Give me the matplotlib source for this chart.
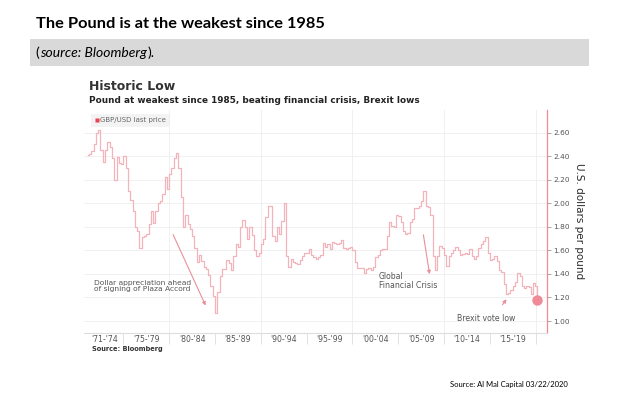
import matplotlib
matplotlib.use("Agg")
import matplotlib.pyplot as plt
from matplotlib.patches import Rectangle
from matplotlib.lines import Line2D
import numpy as np

# ---------------- data ----------------
years = list(range(1971, 2020))
quarterly = [
    [2.41, 2.42, 2.44, 2.50],  # 1971
    [2.60, 2.62, 2.45, 2.35],  # 1972
    [2.45, 2.52, 2.48, 2.38],  # 1973
    [2.20, 2.39, 2.34, 2.33],  # 1974
    [2.40, 2.30, 2.10, 2.03],  # 1975
    [1.93, 1.80, 1.76, 1.62],  # 1976
    [1.71, 1.72, 1.74, 1.82],  # 1977
    [1.93, 1.83, 1.93, 2.00],  # 1978
    [2.02, 2.08, 2.22, 2.12],  # 1979
    [2.25, 2.30, 2.38, 2.43],  # 1980
    [2.30, 2.05, 1.80, 1.90],  # 1981
    [1.82, 1.78, 1.72, 1.62],  # 1982
    [1.50, 1.56, 1.51, 1.46],  # 1983
    [1.44, 1.39, 1.30, 1.21],  # 1984
    [1.07, 1.25, 1.38, 1.44],  # 1985
    [1.44, 1.52, 1.49, 1.43],  # 1986
    [1.55, 1.65, 1.63, 1.80],  # 1987
    [1.86, 1.80, 1.70, 1.80],  # 1988
    [1.73, 1.60, 1.55, 1.58],  # 1989
    [1.65, 1.70, 1.88, 1.98],  # 1990
    [1.98, 1.72, 1.68, 1.80],  # 1991
    [1.74, 1.85, 2.00, 1.55],  # 1992
    [1.46, 1.53, 1.50, 1.49],  # 1993
    [1.48, 1.52, 1.55, 1.58],  # 1994
    [1.58, 1.61, 1.56, 1.54],  # 1995
    [1.53, 1.54, 1.56, 1.66],  # 1996
    [1.63, 1.65, 1.61, 1.67],  # 1997
    [1.66, 1.65, 1.66, 1.69],  # 1998
    [1.62, 1.61, 1.62, 1.63],  # 1999
    [1.60, 1.50, 1.45, 1.45],  # 2000
    [1.45, 1.41, 1.44, 1.45],  # 2001
    [1.43, 1.46, 1.54, 1.56],  # 2002
    [1.60, 1.61, 1.61, 1.72],  # 2003
    [1.84, 1.81, 1.80, 1.90],  # 2004
    [1.89, 1.84, 1.76, 1.74],  # 2005
    [1.75, 1.84, 1.87, 1.96],  # 2006
    [1.96, 1.98, 2.02, 2.10],  # 2007
    [1.98, 1.97, 1.90, 1.55],  # 2008
    [1.43, 1.55, 1.64, 1.62],  # 2009
    [1.56, 1.47, 1.55, 1.58],  # 2010
    [1.60, 1.63, 1.60, 1.56],  # 2011
    [1.57, 1.58, 1.57, 1.61],  # 2012
    [1.55, 1.53, 1.55, 1.62],  # 2013
    [1.65, 1.68, 1.71, 1.58],  # 2014
    [1.52, 1.53, 1.55, 1.51],  # 2015
    [1.43, 1.42, 1.31, 1.23],  # 2016
    [1.24, 1.26, 1.30, 1.33],  # 2017
    [1.41, 1.38, 1.30, 1.28],  # 2018
    [1.30, 1.29, 1.23, 1.32],  # 2019
]
tail_dates = [2020.05, 2020.2]
tail_values = [1.30, 1.18]
last_date = 2020.2
last_value = 1.18

period_labels = ["'71-'74", "'75-'79", "'80-'84", "'85-'89", "'90-'94",
                 "'95-'99", "'00-'04", "'05-'09", "'10-'14", "'15-'19"]
period_starts = [1971, 1975, 1980, 1985, 1990, 1995, 2000, 2005, 2010, 2015]
period_ends = [1975, 1980, 1985, 1990, 1995, 2000, 2005, 2010, 2015, 2020]
y_ticks = [1.00, 1.20, 1.40, 1.60, 1.80, 2.00, 2.20, 2.40, 2.60]
grid_years = [1980, 1990, 2000, 2010, 2020]

dates = []
values = []
for y, qs in zip(years, quarterly):
    for i, v in enumerate(qs):
        dates.append(y + 0.125 + 0.25 * i)
        values.append(v)
dates += tail_dates
values += tail_values

# ---------------- figure ----------------
W, H = 621, 398
fig = plt.figure(figsize=(W / 100, H / 100), dpi=100)
fig.patch.set_facecolor("white")

def px(x):
    return x / W

def py(y):
    return 1 - y / H

doc_font = "Lato"
chart_font = "DejaVu Sans"

# Document title
fig.text(px(36), py(24), "The Pound is at the weakest since 1985", fontsize=11.8,
         fontweight="bold", family=doc_font, va="center", ha="left", color="black")

# grey bar
fig.patches.append(Rectangle((px(30), py(66)), px(589) - px(30), (66 - 39) / H,
                             transform=fig.transFigure, facecolor="#d9d9d9",
                             edgecolor="none", zorder=0))
renderer = fig.canvas.get_renderer()
t1 = fig.text(px(35), py(53), "(", fontsize=10, family=doc_font, va="center", color="black")
bb = t1.get_window_extent(renderer)
t2 = fig.text(bb.x1 / W + 0.0015, py(53), "source: Bloomberg", fontsize=10, family=doc_font,
              style="italic", va="center", color="black")
bb = t2.get_window_extent(renderer)
fig.text(bb.x1 / W + 0.0022, py(53), ").", fontsize=10, family=doc_font, va="center", color="black")

# Chart titles
fig.text(px(89), py(86), "Historic Low", fontsize=9, fontweight="bold",
         family=chart_font, va="center", color="#333333")
fig.text(px(89), py(100.5), "Pound at weakest since 1985, beating financial crisis, Brexit lows",
         fontsize=6.4, fontweight="bold", family=chart_font, va="center", color="#222222")

# axes
x_left, x_right = 84, 547
y_top, y_bot = 110, 332.7
ax = fig.add_axes([px(x_left), py(y_bot), (x_right - x_left) / W, (y_bot - y_top) / H])
ax.set_facecolor("white")
ax.set_xlim(1970.70, 2021.24)
ax.set_ylim(0.9007, 2.791)

for g in y_ticks:
    ax.axhline(g, color="#eeeeee", lw=0.6, zorder=0)
for g in grid_years:
    ax.axvline(g, color="#eeeeee", lw=0.6, zorder=0)

line_color = "#f3b3ba"
ax.plot(dates, values, color=line_color, lw=0.9, zorder=2, drawstyle="steps-mid")
ax.plot([last_date], [last_value], "o", ms=7.5, color="#f08a96", mec="none", zorder=3)

# spines
for s in ["left", "top"]:
    ax.spines[s].set_visible(False)
ax.spines["bottom"].set_color("#dddddd")
ax.spines["bottom"].set_linewidth(0.8)
ax.spines["right"].set_color("#f08a94")
ax.spines["right"].set_linewidth(0.9)

# y axis on right
ax.yaxis.tick_right()
ax.set_yticks(y_ticks)
ax.set_yticklabels([f"{v:.2f}" for v in y_ticks])
ax.tick_params(axis="y", which="major", length=3, width=0.6, color="#999999",
               labelsize=5.3, labelcolor="#555555", pad=1.5, direction="out")
for lab in ax.get_yticklabels():
    lab.set_family(chart_font)
ax.yaxis.set_label_position("right")
ax.set_ylabel("U.S. dollars per pound", rotation=270, fontsize=7.5, color="#2a2a2a",
              family=chart_font, labelpad=10)

# x axis: separators as major ticks, labels as minor ticks
ax.set_xticks(period_ends)
ax.set_xticklabels([""] * len(period_ends))
ax.set_xticks([(a + b) / 2 for a, b in zip(period_starts, period_ends)], minor=True)
ax.set_xticklabels(period_labels, minor=True)
ax.tick_params(axis="x", which="major", length=8, width=0.6, color="#dddddd", direction="out")
ax.tick_params(axis="x", which="minor", length=0, labelsize=5.6, labelcolor="#555555", pad=2)
for lab in ax.get_xticklabels(minor=True):
    lab.set_family(chart_font)

# legend
handle = Line2D([], [], marker="s", color="none", markerfacecolor="#e84350",
                markeredgecolor="none", markersize=3)
leg = fig.legend([handle], ["GBP/USD last price"], loc="upper left",
                 bbox_to_anchor=(px(88), py(110.5)), frameon=True, fontsize=5.0,
                 handlelength=0.5, handletextpad=0.2, borderpad=0.5,
                 labelcolor="#666666")
leg.get_frame().set_facecolor("#f0f0f0")
leg.get_frame().set_edgecolor("none")
leg.get_frame().set_boxstyle("square", pad=0)

# annotations
arrow_color = "#e8909a"
ax.annotate("", xy=(1984.1, 1.11), xytext=(1980.3, 1.755),
            arrowprops=dict(arrowstyle="-|>", color=arrow_color, lw=0.8, mutation_scale=5))
ax.text(1971.8, 1.297, "Dollar appreciation ahead\nof signing of Plaza Accord",
        fontsize=5.4, color="#555555", family=chart_font, va="center", ha="left",
        linespacing=1.15)

ax.annotate("", xy=(2008.47, 1.374), xytext=(2007.7, 1.755),
            arrowprops=dict(arrowstyle="-|>", color=arrow_color, lw=0.8, mutation_scale=5))
ax.text(2002.9, 1.34, "Global\nFinancial Crisis", fontsize=5.6, color="#555555",
        family=chart_font, va="center", ha="left", linespacing=1.1)

ax.annotate("", xy=(2017.0, 1.204), xytext=(2016.2, 1.119),
            arrowprops=dict(arrowstyle="-|>", color=arrow_color, lw=0.8, mutation_scale=5))
ax.text(2014.6, 1.025, "Brexit vote low", fontsize=5.6, color="#555555",
        family=chart_font, va="center", ha="center")

# sources
fig.text(px(92), py(349), "Source: Bloomberg", fontsize=4.8, fontweight="bold",
         family=chart_font, va="center", color="#333333")
fig.text(px(568), py(384), "Source: Al Mal Capital 03/22/2020", fontsize=5.5,
         family=doc_font, va="center", ha="right", color="black")

fig.savefig("out.png", dpi=100, facecolor="white")
